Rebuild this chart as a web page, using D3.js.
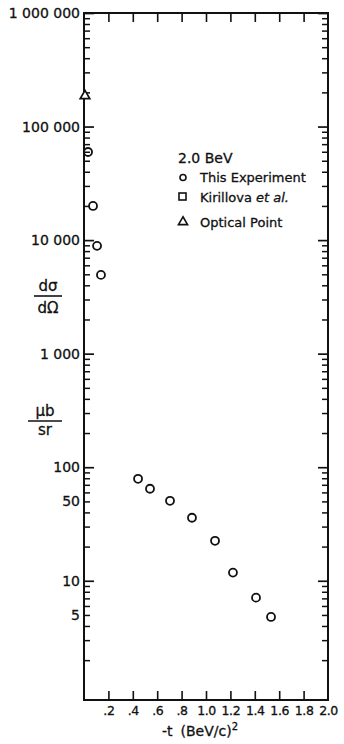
<!DOCTYPE html>
<html>
<head>
<meta charset="utf-8">
<script src="https://cdn.jsdelivr.net/npm/d3@7"></script>
<style>
  body { margin: 0; background: #fff; }
  text { font-family: "DejaVu Sans", sans-serif; fill: #111; stroke: #111; stroke-width: 0.3px; }
</style>
</head>
<body>
<svg id="chart" width="344" height="744"></svg>
<script>
// -t in (BeV/c)^2, dsigma/dOmega in microbarn / sr
const expT = [0.033, 0.074, 0.107, 0.139, 0.443, 0.541, 0.705, 0.885, 1.074, 1.221, 1.41, 1.533];
const expSigma = [59700, 20000, 8900, 4940, 79, 64.6, 50.6, 35.9, 22.5, 11.8, 7.1, 4.8];
const opticalT = [0];
const opticalSigma = [186000];

const xTickValues = [0.2, 0.4, 0.6, 0.8, 1.0, 1.2, 1.4, 1.6, 1.8];
const xLabelValues = [0.2, 0.4, 0.6, 0.8, 1.0, 1.2, 1.4, 1.6, 1.8, 2.0];
const yMajor = [1e6, 1e5, 1e4, 1e3, 100, 10];
const yLabelValues = [1e6, 1e5, 1e4, 1e3, 100, 50, 10, 5];
const legendTitle = "2.0 BeV";
const legendItems = ["This Experiment", "Kirillova", "Optical Point"];

const width = 344, height = 744;
const margin = {top: 13, left: 84, right: 16, bottom: 44};

let svg = d3.select("#chart");

let x = d3.scaleLinear()
    .domain([0, 2])
    .range([margin.left, width - margin.right]);
let y = d3.scaleLog()
    .domain([Math.pow(10, -0.05), 1e6])
    .range([height - margin.bottom, margin.top]);

// minor log ticks 2..9 in every decade
let yMinor = [];
for (let d = 0; d < 6; d++) {
    for (let k = 2; k <= 9; k++) yMinor.push(k * Math.pow(10, d));
}

function styleTicks(g, w) {
    g.select(".domain").remove();
    g.selectAll(".tick line").attr("stroke", "#111").attr("stroke-width", w);
}

let xLeft = x(0), xRight = x(2);
let yBottom = y.range()[0], yTop = y(1e6);

// frame
svg.append("rect")
    .attr("x", xLeft)
    .attr("y", yTop)
    .attr("width", xRight - xLeft)
    .attr("height", yBottom - yTop)
    .attr("fill", "none")
    .attr("stroke", "#111")
    .attr("stroke-width", 2);

// left + right ticks, pointing inward
svg.append("g").attr("transform", `translate(${xLeft},0)`)
    .call(d3.axisLeft(y).tickValues(yMajor).tickSize(-10).tickFormat(""))
    .call(g => styleTicks(g, 1.7));
svg.append("g").attr("transform", `translate(${xLeft},0)`)
    .call(d3.axisLeft(y).tickValues(yMinor).tickSize(-6).tickFormat(""))
    .call(g => styleTicks(g, 1.5));
svg.append("g").attr("transform", `translate(${xRight},0)`)
    .call(d3.axisRight(y).tickValues(yMajor).tickSize(-10).tickFormat(""))
    .call(g => styleTicks(g, 1.7));
svg.append("g").attr("transform", `translate(${xRight},0)`)
    .call(d3.axisRight(y).tickValues(yMinor).tickSize(-6).tickFormat(""))
    .call(g => styleTicks(g, 1.5));

// y labels
svg.append("g").attr("transform", `translate(${xLeft},0)`)
    .call(d3.axisLeft(y).tickValues(yLabelValues).tickSize(0).tickPadding(4)
        .tickFormat(v => d3.format(",")(v).replace(/,/g, " ")))
    .call(g => g.select(".domain").remove())
    .call(g => g.selectAll("text").style("font-size", "14px").attr("font-family", null));

// top + bottom ticks
svg.append("g").attr("transform", `translate(0,${yBottom})`)
    .call(d3.axisBottom(x).tickValues(xTickValues).tickSize(-9).tickFormat(""))
    .call(g => styleTicks(g, 1.6));
svg.append("g").attr("transform", `translate(0,${yTop})`)
    .call(d3.axisTop(x).tickValues(xTickValues).tickSize(-9).tickFormat(""))
    .call(g => styleTicks(g, 1.6));

svg.append("g").attr("transform", `translate(0,${yBottom})`)
    .call(d3.axisBottom(x).tickValues(xLabelValues).tickSize(0).tickPadding(6)
        .tickFormat(v => v < 1 ? d3.format(".1f")(v).slice(1) : d3.format(".1f")(v)))
    .call(g => g.select(".domain").remove())
    .call(g => g.selectAll("text").style("font-size", "12.5px")
        .style("letter-spacing", "-0.4px").attr("font-family", null));

// x title
let xt = svg.append("text")
    .attr("x", (xLeft + xRight) / 2 - 6)
    .attr("y", 736)
    .attr("text-anchor", "middle")
    .style("font-size", "14px");
xt.append("tspan").text("-t");
xt.append("tspan").attr("dx", 8).text("(BeV/c)");
xt.append("tspan").attr("dy", -6).style("font-size", "10px").text("2");

// y title fractions
function fraction(cx, num, den, yNum, yLine, yDen, x1, x2) {
    svg.append("text").attr("x", cx).attr("y", yNum).attr("text-anchor", "middle")
        .style("font-size", "15px").text(num);
    svg.append("line").attr("x1", x1).attr("x2", x2).attr("y1", yLine).attr("y2", yLine)
        .attr("stroke", "#111").attr("stroke-width", 1.6);
    svg.append("text").attr("x", cx).attr("y", yDen).attr("text-anchor", "middle")
        .style("font-size", "15px").text(den);
}
fraction(48, "dσ", "dΩ", 291, 296, 313, 34, 62);
fraction(45, "μb", "sr", 416, 421, 435, 28, 62);

// data
svg.append("g")
    .selectAll("circle")
    .data(expT.map((t, i) => [t, expSigma[i]]))
    .join("circle")
    .attr("cx", d => x(d[0]))
    .attr("cy", d => y(d[1]))
    .attr("r", 4)
    .attr("fill", "none")
    .attr("stroke", "#111")
    .attr("stroke-width", 1.8);

let tri = d3.symbol().type(d3.symbolTriangle).size(40);
svg.append("g")
    .selectAll("path")
    .data(opticalT.map((t, i) => [t, opticalSigma[i]]))
    .join("path")
    .attr("transform", d => `translate(${x(d[0]) + 1},${y(d[1])})`)
    .attr("d", tri)
    .attr("fill", "#fff")
    .attr("stroke", "#111")
    .attr("stroke-width", 1.7);

// legend
let lg = svg.append("g");
lg.append("text").attr("x", 178).attr("y", 163).style("font-size", "14px").text(legendTitle);
let rowY = [182, 202, 227];
lg.append("circle").attr("cx", 183).attr("cy", rowY[0] - 4.5).attr("r", 3)
    .attr("fill", "none").attr("stroke", "#111").attr("stroke-width", 1.6);
lg.append("rect").attr("x", 179).attr("y", rowY[1] - 9).attr("width", 7).attr("height", 7)
    .attr("fill", "none").attr("stroke", "#111").attr("stroke-width", 1.6);
lg.append("path").attr("transform", `translate(183,${rowY[2] - 5})`)
    .attr("d", d3.symbol().type(d3.symbolTriangle).size(36))
    .attr("fill", "none").attr("stroke", "#111").attr("stroke-width", 1.6);

lg.append("text").attr("x", 200).attr("y", rowY[0]).style("font-size", "13px").text(legendItems[0]);
let kt = lg.append("text").attr("x", 200).attr("y", rowY[1]).style("font-size", "13px");
kt.append("tspan").text(legendItems[1] + " ");
kt.append("tspan").style("font-style", "italic").text("et al.");
lg.append("text").attr("x", 200).attr("y", rowY[2]).style("font-size", "13px").text(legendItems[2]);
</script>
</body>
</html>
